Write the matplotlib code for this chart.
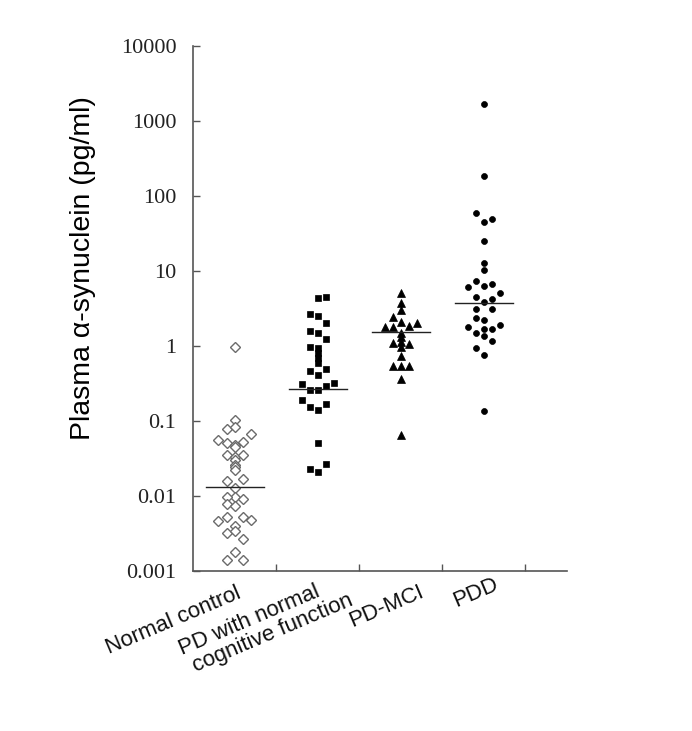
import matplotlib.pyplot as plt
import numpy as np

# groups
groups = ["Normal control", "PD with normal\n cognitive function", "PD-MCI", "PDD"]

# plasma alpha-synuclein (pg/ml)
nc_vals = [0.97, 0.103, 0.078, 0.082, 0.068, 0.056, 0.051, 0.048, 0.053, 0.045,
           0.035, 0.033, 0.035, 0.030, 0.026, 0.024, 0.022, 0.016, 0.017, 0.0126,
           0.0098, 0.0096, 0.0091, 0.0078, 0.0074, 0.0047, 0.0053, 0.0053, 0.0048,
           0.004, 0.0032, 0.0034, 0.0027, 0.0018, 0.0014, 0.0014]
nc_slot = [0, 0, -1, 0, 2, -2, -1, 0, 1, 0,
           -1, 0, 1, 0, 0, 0, 0, -1, 1, 0,
           0, -1, 1, -1, 0, -2, -1, 1, 2,
           0, -1, 0, 1, 0, -1, 1]

pd_vals = [4.33, 4.46, 2.67, 2.51, 2.04, 1.60, 1.50, 1.23, 0.98, 0.93,
           0.80, 0.69, 0.59, 0.47, 0.41, 0.49, 0.31, 0.26, 0.26, 0.29,
           0.32, 0.19, 0.155, 0.14, 0.168, 0.051, 0.0226, 0.021, 0.027]
pd_slot = [0, 1, -1, 0, 1, -1, 0, 1, -1, 0,
           0, 0, 0, -1, 0, 1, -2, -1, 0, 1,
           2, -2, -1, 0, 1, 0, -1, 0, 1]

mci_vals = [5.04, 3.78, 3.02, 2.46, 2.11, 1.81, 1.78, 1.85, 2.0, 1.50,
            1.31, 1.09, 1.14, 1.06, 0.98, 0.74, 0.54, 0.54, 0.54, 0.36, 0.065]
mci_slot = [0, 0, 0, -1, 0, -2, -1, 1, 2, 0,
            0, -1, 0, 1, 0, 0, -1, 0, 1, 0, 0]

pdd_vals = [1685, 186, 60, 44.5, 48.8, 25, 12.9, 10.3, 7.35, 6.06,
            6.36, 6.63, 5.04, 4.54, 4.24, 3.83, 3.08, 3.08, 2.39, 2.2,
            1.81, 1.91, 1.69, 1.69, 1.48, 1.37, 1.18, 0.93, 0.76, 0.136]
pdd_slot = [0, 0, -1, 0, 1, 0, 0, 0, -1, -2,
            0, 1, 2, -1, 1, 0, -1, 1, -1, 0,
            -2, 2, 0, 1, -1, 0, 1, -1, 0, 0]

medians = [0.013, 0.27, 1.55, 3.75]

yticks = [0.001, 0.01, 0.1, 1, 10, 100, 1000, 10000]
ytick_labels = ["0.001", "0.01", "0.1", "1", "10", "100", "1000", "10000"]

fig = plt.figure(figsize=(6.92, 7.31), dpi=100)
ax = fig.add_axes([0.279, 0.219, 0.540, 0.718])

# marker styles per group
styles = [dict(marker="D", ms=4.6, mfc="white", mec="#6b6b6b", mew=1.0),
          dict(marker="s", ms=5.0, mfc="black", mec="black", mew=0.5),
          dict(marker="^", ms=6.0, mfc="black", mec="black", mew=0.5),
          dict(marker="o", ms=4.3, mfc="black", mec="black", mew=0.5)]

data = [(nc_vals, nc_slot), (pd_vals, pd_slot), (mci_vals, mci_slot), (pdd_vals, pdd_slot)]
for i, (vals, slot) in enumerate(data):
    pos = i + 1
    xs = pos + 0.097 * np.array(slot)
    ax.plot(xs, vals, linestyle="none", **styles[i])
    ax.plot([pos - 0.35, pos + 0.35], [medians[i], medians[i]], color="#222222", lw=1.0)

ax.set_yscale("log")
ax.set_ylim(0.001, 10000)
ax.set_xlim(0.5, 5.0)
ax.set_yticks(yticks)
ax.set_yticklabels(ytick_labels, family="Liberation Serif", fontsize=16, color="#222222")
ax.yaxis.set_minor_locator(plt.NullLocator())
ax.set_xticks([1.5, 2.5, 3.5, 4.5])
ax.set_xticklabels([])
ax.tick_params(direction="in", length=5, width=1.0, color="#555555", pad=12)

for s in ["top", "right"]:
    ax.spines[s].set_visible(False)
for s in ["left", "bottom"]:
    ax.spines[s].set_color("#555555")
    ax.spines[s].set_linewidth(1.2)

fig.text(83 / 692, 1 - 268 / 731, "Plasma \u03b1-synuclein (pg/ml)", rotation=90,
         ha="center", va="center", family="Liberation Sans", fontsize=20.5)

# rotated group labels
label_dx = [0.02, 0.27, 0.22, 0.12]
label_dy = [-0.022, 0.0, -0.02, -0.005]
for i, g in enumerate(groups):
    ax.text(i + 1 + label_dx[i], label_dy[i], g, transform=ax.get_xaxis_transform(),
            rotation=23, rotation_mode="anchor", ha="right", va="top", linespacing=1.0,
            multialignment="left", family="Liberation Sans", fontsize=16, color="#111111")

fig.savefig("out.png", dpi=100)
